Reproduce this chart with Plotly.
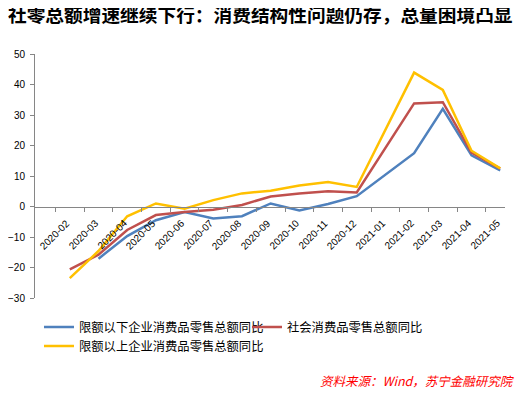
import plotly.graph_objects as go

months = ["2020-02", "2020-03", "2020-04", "2020-05", "2020-06", "2020-07", "2020-08",
          "2020-09", "2020-10", "2020-11", "2020-12", "2021-01", "2021-02", "2021-03",
          "2021-04", "2021-05"]
below_limit = [None, -17.1, -9.7, -4.5, -1.8, -3.9, -3.2, 1.0, -1.3, 0.8, 3.4, None,
               17.5, 32.0, 16.8, 11.8]
total_retail = [-20.6, -15.8, -7.7, -2.8, -1.8, -1.1, 0.5, 3.3, 4.3, 5.0, 4.6, None,
                33.8, 34.2, 17.7, 12.4]
above_limit = [-23.5, -14.6, -3.2, 1.0, -0.7, 2.1, 4.3, 5.2, 6.9, 8.0, 6.4, None,
               43.9, 38.2, 18.3, 12.5]

names = ["限额以下企业消费品零售总额同比", "社会消费品零售总额同比", "限额以上企业消费品零售总额同比"]
colors = ["#4F81BD", "#C0504D", "#FFC000"]
series = [below_limit, total_retail, above_limit]

fig = go.Figure()
for name, col, vals in zip(names, colors, series):
    fig.add_trace(go.Scatter(x=months, y=vals, name=name, mode="lines",
                             line=dict(color=col, width=2.5), connectgaps=True))

cjk = "Noto Sans CJK SC"

# Category tick labels placed just below the zero-line axis, rotated like the original
tick_annotations = [dict(text=m, x=m, y=0, xref="x", yref="y", textangle=-45,
                         xshift=-15, yshift=-28, showarrow=False,
                         font=dict(family="Liberation Sans", size=10, color="#000000"))
                    for m in months]

fig.update_layout(
    width=521, height=387,
    margin=dict(l=27, r=24, t=46, b=97, autoexpand=False),
    paper_bgcolor="white", plot_bgcolor="white",
    showlegend=True,
    legend=dict(orientation="h", x=0.0085, xanchor="left", y=-0.059, yanchor="top",
                entrywidth=163, entrywidthmode="pixels",
                font=dict(family=cjk, size=12.3, color="#000000"),
                bgcolor="rgba(0,0,0,0)"),
    title=dict(text="<b>社零总额增速继续下行：消费结构性问题仍存，总量困境凸显</b>",
               x=0.0, xanchor="left", xref="container", y=1 - 7 / 387, yanchor="middle",
               yref="container",
               font=dict(family=cjk, size=18.7, color="#000000")),
    xaxis=dict(type="category", anchor="free", position=0.375, automargin=False,
               showline=True, linecolor="#868686", linewidth=1,
               ticks="outside", tickson="boundaries", ticklen=4, tickcolor="#868686",
               showticklabels=False, showgrid=False, zeroline=False),
    yaxis=dict(range=[-30, 50], dtick=10, showline=True, linecolor="#868686",
               linewidth=1, ticks="outside", ticklen=4, tickcolor="#868686",
               showgrid=False, zeroline=False, automargin=False, ticklabelstandoff=3,
               tickfont=dict(family="Liberation Sans", size=10, color="#000000")),
    annotations=tick_annotations + [
        dict(text="<i>资料来源：Wind，苏宁金融研究院</i>", xref="paper", yref="paper",
             x=1.0255, xanchor="right", y=-0.340, yanchor="middle", showarrow=False,
             font=dict(family=cjk, size=12.5, color="#FF0000"))],
)
fig.write_html("out.html")
